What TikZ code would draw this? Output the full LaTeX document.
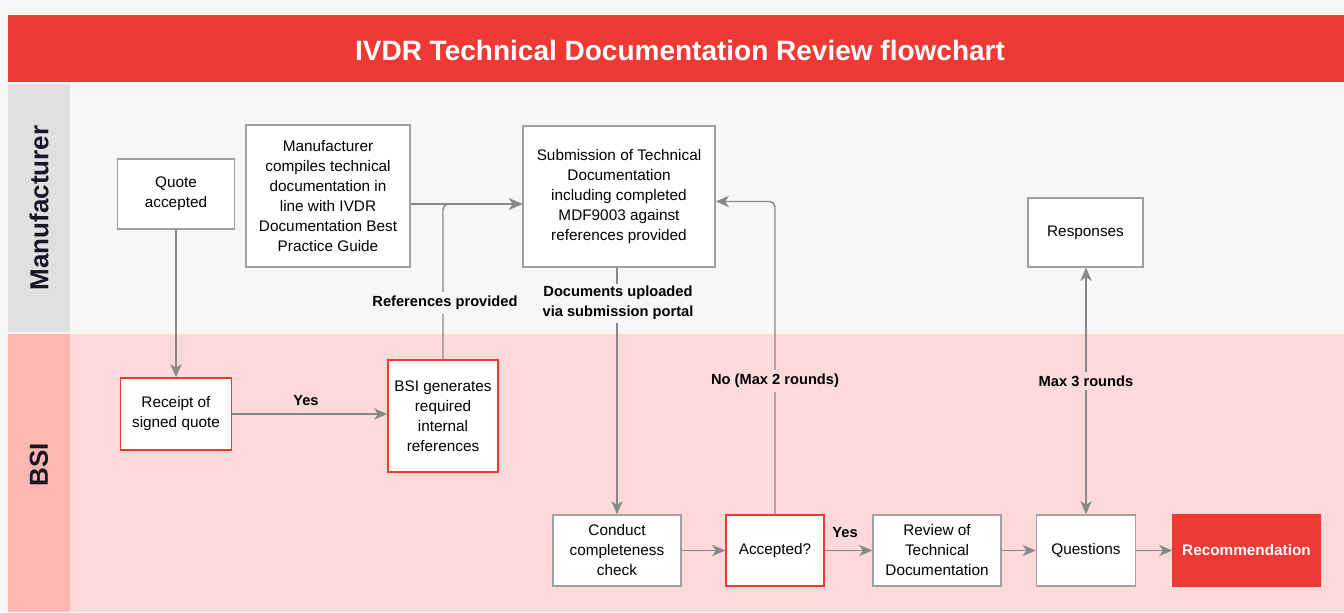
\documentclass[tikz,border=0pt]{standalone}
\usepackage{fontspec}
\setmainfont{Liberation Sans}
\usetikzlibrary{arrows.meta,calc}
\definecolor{bg}{RGB}{247,247,247}
\definecolor{titlered}{RGB}{239,57,53}
\definecolor{manband}{RGB}{224,224,224}
\definecolor{bsilane}{RGB}{253,218,218}
\definecolor{bsiband}{RGB}{252,183,178}
\definecolor{boxgray}{RGB}{160,160,160}
\definecolor{linegray}{RGB}{136,136,136}
\definecolor{navy}{RGB}{22,22,40}
\tikzset{
  box/.style={draw=boxgray, fill=white, line width=1pt, align=center, inner sep=0pt,
    font=\fontsize{11.5}{15}\selectfont},
  redbox/.style={box, draw=titlered},
  recbox/.style={box, draw=titlered, fill=titlered, text=white, font=\bfseries\fontsize{11.5}{15}\selectfont},
  tip/.tip={Stealth[length=10pt,width=8.5pt,inset=3pt]},
  conn/.style={draw=linegray, line width=1.1pt, -tip},
  conn2/.style={conn, tip-tip},
  lbl/.style={font=\bfseries\fontsize{11}{15}\selectfont, align=center, inner sep=3pt},
  lanelabel/.style={font=\bfseries\fontsize{19.5}{22}\selectfont, text=navy},
}
\begin{document}
\begin{tikzpicture}[x=0.75pt,y=-0.75pt]
\useasboundingbox (0,0) rectangle (1344,612);
\fill[bg] (0,0) rectangle (1344,612);
% title
\fill[titlered] (8,15) rectangle (1344,82);
\node[font=\bfseries\fontsize{21}{24}\selectfont, text=white] (title) at (680,50) {IVDR Technical Documentation Review flowchart};
% lanes
\fill[manband] (8,84) rectangle (70,332);
\fill[bsilane] (70,334) rectangle (1344,612);
\fill[bsiband] (8,334) rectangle (70,612);
\node[lanelabel, rotate=90] (manlabel) at (39,208) {Manufacturer};
\node[lanelabel, rotate=90] (bsilabel) at (39,465) {BSI};
% nodes
\node[box, minimum width=87.75pt, minimum height=52.5pt] (quote) at (176,194) {Quote\\accepted};
\node[box, minimum width=123pt, minimum height=106.5pt] (compile) at (328,196) {Manufacturer\\compiles technical\\documentation in\\line with IVDR\\Documentation Best\\Practice Guide};
\node[box, minimum width=144pt, minimum height=105.75pt] (sub) at (619,196.5) {Submission of Technical\\Documentation\\including completed\\MDF9003 against\\references provided};
\node[box, minimum width=86.25pt, minimum height=51.75pt] (resp) at (1085.5,232.5) {Responses};
\node[redbox, minimum width=83.25pt, minimum height=54pt] (receipt) at (176,414) {Receipt of\\signed quote};
\node[redbox, minimum width=82.5pt, minimum height=84pt] (bsigen) at (443,416) {BSI generates\\required\\internal\\references};
\node[box, minimum width=96pt, minimum height=53.25pt] (conduct) at (617,550.5) {Conduct\\completeness\\check};
\node[redbox, minimum width=73.5pt, minimum height=53.25pt] (acc) at (775,550.5) {Accepted?};
\node[box, minimum width=96pt, minimum height=53.25pt] (review) at (937,550.5) {Review of\\Technical\\Documentation};
\node[box, minimum width=74.25pt, minimum height=53.25pt] (quest) at (1086,550.5) {Questions};
\node[recbox, minimum width=110.25pt, minimum height=53.25pt] (rec) at (1246.5,550.5) {Recommendation};
% connectors
\draw[conn] (quote.south) -- (receipt.north);
\draw[conn] (receipt.east) -- (receipt.east -| bsigen.west);
\node[lbl] (yes1) at (306,401) {Yes};
\coordinate (jin) at ($(sub.west)+(0,7.5)$);
\draw[conn] (compile.east |- jin) -- (jin);
\draw[conn, rounded corners=4pt] (bsigen.north) |- (jin);
\node[lbl, fill=bg] (reflbl) at (445,303) {References provided};
\draw[conn] (sub.south -| conduct.north) -- (conduct.north);
\node[lbl, fill=bg, inner ysep=2pt] (doclbl) at (618,303) {Documents uploaded\\via submission portal};
\coordinate (jout) at ($(sub.east)+(0,5)$);
\draw[conn, rounded corners=4pt] (acc.north) |- (jout);
\node[lbl, fill=bsilane] (nolbl) at (775,381) {No (Max 2 rounds)};
\draw[conn] (conduct) -- (acc);
\draw[conn] (acc) -- (review);
\node[lbl] (yes2) at (845,533) {Yes};
\draw[conn] (review) -- (quest);
\draw[conn] (quest) -- (rec);
\draw[conn2] (resp.south -| quest.north) -- (quest.north);
\node[lbl, fill=bsilane] (maxlbl) at (1086,381) {Max 3 rounds};
\end{tikzpicture}
\end{document}
